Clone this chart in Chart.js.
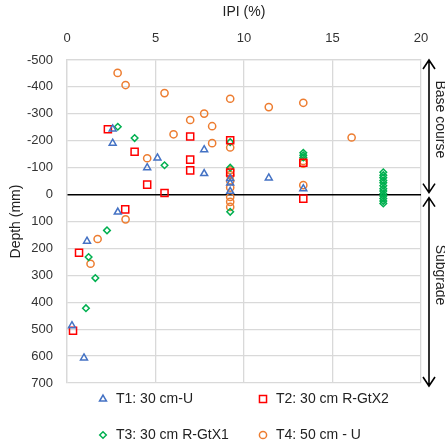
<!DOCTYPE html>
<html>
<head>
<meta charset="utf-8">
<script src="https://cdn.jsdelivr.net/npm/chart.js@4"></script>
<style>
  html, body { margin: 0; padding: 0; background: #fff; }
  #wrap { width: 445px; height: 444px; }
</style>
</head>
<body>
<div id="wrap"><canvas id="ipiChart" width="445" height="444"></canvas></div>
<script>
// IPI (%) vs depth (mm), four test sections
const t1X = [2.58, 2.58, 4.53, 5.11, 7.75, 7.75, 11.4, 9.22, 9.22, 9.22, 13.35, 2.87, 1.13, 0.28, 0.96];
const t1Y = [-244, -191, -100, -136, -167, -78, -62, -60, -43, -12, -22, 65, 173, 487, 607];

const t2X = [2.31, 3.82, 4.53, 5.51, 6.96, 6.96, 6.96, 9.22, 9.22, 13.35, 13.35, 3.29, 0.68, 0.34];
const t2Y = [-243, -159, -37, -6, -216, -130, -90, -202, -82, -118, 15, 55, 216, 506];

const t3X = [2.87, 3.82, 5.51, 9.22, 9.22, 9.22, 13.35, 13.35, 13.35, 2.26, 1.22, 1.6, 1.07,
  17.87, 17.87, 17.87, 17.87, 17.87, 17.87, 17.87, 17.87, 17.87, 17.87, 17.87, 17.87, 17.87];
const t3Y = [-252, -210, -109, -195, -100, 64, -155, -146, -138, 133, 232, 310, 422,
  -83, -72, -63, -52, -44, -33, -22, -13, -3, 5, 15, 24, 33];

const t4X = [2.86, 3.31, 5.51, 6.02, 6.96, 7.75, 8.2, 8.2, 4.53, 9.22, 11.4, 13.35, 16.08,
  9.22, 9.22, 9.22, 9.22, 9.22, 9.22, 9.22, 9.22, 13.35, 13.35, 13.35, 3.31, 1.73, 1.33];
const t4Y = [-452, -407, -377, -224, -277, -301, -254, -191, -135, -356, -325, -341, -212,
  -175, -90, -72, -51, -26, 9, 27, 46, -125, -115, -35, 92, 165, 257];

const seriesNames = ["T1: 30 cm-U", "T2: 30 cm R-GtX2", "T3: 30 cm R-GtX1", "T4: 50 cm - U"];
const layerNames = ["Base course", "Subgrade"];

const FONT = "'Liberation Sans', 'DejaVu Sans', sans-serif";

function pts(xs, ys) {
  return xs.map((x, i) => ({ x: x, y: ys[i] }));
}

function series(label, xs, ys, color, style, radius) {
  return {
    label: label,
    data: pts(xs, ys),
    pointStyle: style,
    pointRadius: radius,
    pointHoverRadius: radius,
    pointBorderWidth: 1.5,
    borderColor: color,
    backgroundColor: "rgba(0,0,0,0)",
    showLine: false,
  };
}

// legend in a 2x2 grid under the plot
const gridLegend = {
  id: "gridLegend",
  afterDraw(chart) {
    const ctx = chart.ctx;
    const cols = [103, 263];
    const rows = [399, 435];
    ctx.save();
    ctx.font = "14px " + FONT;
    ctx.textBaseline = "middle";
    chart.data.datasets.forEach((ds, i) => {
      const x = cols[i % 2];
      const y = rows[Math.floor(i / 2)];
      ctx.strokeStyle = ds.borderColor;
      ctx.fillStyle = "rgba(0,0,0,0)";
      ctx.lineWidth = 1.5;
      Chart.helpers.drawPoint(ctx, { pointStyle: ds.pointStyle, radius: ds.pointRadius, rotation: 0, borderWidth: 1.5 }, x, y);
      ctx.fillStyle = "#222";
      ctx.fillText(ds.label, x + 13, y);
    });
    ctx.restore();
  },
};

// arrows + layer labels on the right side
const layerArrows = {
  id: "layerArrows",
  afterDraw(chart) {
    const ctx = chart.ctx;
    const y = chart.scales.y;
    const ax = 429;
    const top = chart.chartArea.top;
    const bottom = chart.chartArea.bottom + 3;
    const zero = y.getPixelForValue(0);
    ctx.save();
    ctx.strokeStyle = "#000";
    ctx.lineWidth = 1.6;
    function arrow(y1, y2) {
      ctx.beginPath();
      ctx.moveTo(ax, y1);
      ctx.lineTo(ax, y2);
      ctx.moveTo(ax - 6, y1 + 9);
      ctx.lineTo(ax, y1);
      ctx.lineTo(ax + 6, y1 + 9);
      ctx.moveTo(ax - 6, y2 - 9);
      ctx.lineTo(ax, y2);
      ctx.lineTo(ax + 6, y2 - 9);
      ctx.stroke();
    }
    arrow(top, zero - 2);
    arrow(zero + 3, bottom);
    ctx.fillStyle = "#222";
    ctx.font = "14px " + FONT;
    ctx.textAlign = "center";
    ctx.textBaseline = "middle";
    const labelY = [(top + zero) / 2 - 8, 275];
    layerNames.forEach((name, i) => {
      ctx.save();
      ctx.translate(440, labelY[i]);
      ctx.rotate(Math.PI / 2);
      ctx.fillText(name, 0, 0);
      ctx.restore();
    });
    ctx.restore();
  },
};

new Chart(document.getElementById("ipiChart"), {
  type: "scatter",
  data: {
    datasets: [
      series(seriesNames[0], t1X, t1Y, "#4472C4", "triangle", 4),
      series(seriesNames[1], t2X, t2Y, "#FF0000", "rect", 5),
      series(seriesNames[2], t3X, t3Y, "#00B050", "rectRot", 3.3),
      series(seriesNames[3], t4X, t4Y, "#ED7D31", "circle", 3.6),
    ],
  },
  options: {
    responsive: false,
    animation: false,
    layout: { padding: { top: 0, right: 24, bottom: 61, left: 0 } },
    plugins: {
      legend: { display: false },
      tooltip: { enabled: false },
    },
    scales: {
      x: {
        type: "linear",
        position: "top",
        min: 0,
        max: 20,
        afterFit(scale) { scale.height = 60; },
        ticks: { stepSize: 5, padding: 14, color: "#333", font: { family: FONT, size: 13 } },
        grid: { color: "#d9d9d9", lineWidth: 1.3, drawTicks: false },
        border: { color: "#d9d9d9", width: 1.3 },
        title: { display: true, text: "IPI (%)", color: "#222", padding: { top: 4, bottom: 0 }, font: { family: FONT, size: 14 } },
      },
      y: {
        type: "linear",
        reverse: true,
        min: -500,
        max: 700,
        afterFit(scale) { scale.width = 67; },
        ticks: { stepSize: 100, padding: 14, color: "#333", font: { family: FONT, size: 13 } },
        grid: {
          drawTicks: false,
          color: (c) => (c.tick && c.tick.value === 0 ? "#000" : "#d9d9d9"),
          lineWidth: (c) => (c.tick && c.tick.value === 0 ? 1.6 : 1.3),
          z: 0,
        },
        border: { color: "#d9d9d9", width: 1.3 },
        title: { display: true, text: "Depth (mm)", color: "#222", padding: { top: 8, bottom: 0 }, font: { family: FONT, size: 14 } },
      },
    },
  },
  plugins: [gridLegend, layerArrows],
});
</script>
</body>
</html>
